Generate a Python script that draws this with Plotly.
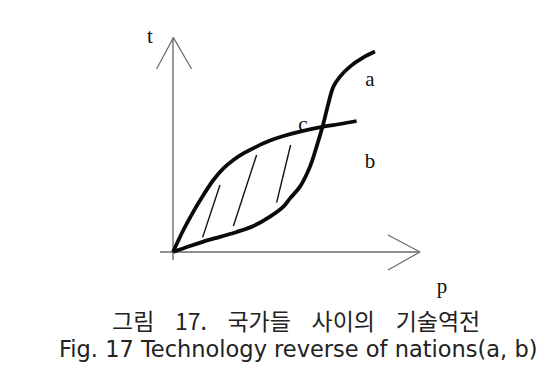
import plotly.graph_objects as go

# Curve a (S-shaped) : p, t
a_p = [0, 0.85, 1.52, 2.35, 3.18, 4.02, 4.85, 5.52, 5.85, 6.35, 6.85, 7.18, 7.52, 7.77, 8.02, 8.35, 8.85, 9.52, 10.1]
a_t = [0, 0.30, 0.52, 0.76, 1.00, 1.30, 1.77, 2.27, 2.68, 3.27, 4.27, 5.27, 6.43, 7.43, 8.27, 8.77, 9.27, 9.73, 10.02]
# Curve b (concave)
b_p = [0, 0.52, 1.02, 1.52, 2.02, 2.52, 3.02, 3.52, 4.18, 4.85, 5.52, 6.35, 7.52, 8.35, 9.18]
b_t = [0, 1.10, 2.02, 2.85, 3.60, 4.18, 4.60, 4.93, 5.27, 5.57, 5.80, 6.02, 6.27, 6.40, 6.55]
# Hatch strokes between the curves (start/end pairs)
hatch_p = [[2.35, 1.48], [4.18, 3.02], [5.88, 5.18]]
hatch_t = [[3.35, 0.73], [4.85, 1.30], [5.35, 2.47]]
# Axes
vaxis_p = [0, 0]
vaxis_t = [-0.4, 10.72]
varrow_p = [-0.82, 0.02, 0.93]
varrow_t = [9.15, 10.72, 9.15]
haxis_p = [-0.65, 12.35]
haxis_t = [0, 0]
harrow_p = [10.75, 12.35, 10.75]
harrow_t = [0.85, 0, -0.9]
# Labels
label_text = ["t", "a", "c", "b", "p"]
label_p = [-1.15, 9.85, 6.5, 9.85, 13.45]
label_t = [10.7, 8.55, 6.3, 4.45, -1.8]

caption_kr = "그림    17.    국가들    사이의    기술역전"
caption_en = "Fig. 17 Technology reverse of nations(a, b)"

fig = go.Figure()
fig.add_trace(go.Scatter(x=label_p, y=label_t, text=label_text, mode="text",
                         textfont=dict(family="Liberation Serif", size=21, color="#111"),
                         hoverinfo="skip"))
fig.add_trace(go.Scatter(x=vaxis_p, y=vaxis_t, mode="lines",
                         line=dict(color="#9a9a9a", width=2), hoverinfo="skip"))
fig.add_trace(go.Scatter(x=varrow_p, y=varrow_t, mode="lines",
                         line=dict(color="#6a6a6a", width=1.2), hoverinfo="skip"))
fig.add_trace(go.Scatter(x=haxis_p, y=haxis_t, mode="lines",
                         line=dict(color="#6a6a6a", width=1.5), hoverinfo="skip"))
fig.add_trace(go.Scatter(x=harrow_p, y=harrow_t, mode="lines",
                         line=dict(color="#6a6a6a", width=1.2), hoverinfo="skip"))
hx, hy = [], []
for px, ty in zip(hatch_p, hatch_t):
    hx += px + [None]
    hy += ty + [None]
fig.add_trace(go.Scatter(x=hx, y=hy, mode="lines",
                         line=dict(color="#111", width=1.4), hoverinfo="skip"))
fig.add_trace(go.Scatter(x=b_p, y=b_t, mode="lines", line_shape="spline",
                         line=dict(color="#0a0a0a", width=3.8), hoverinfo="skip"))
fig.add_trace(go.Scatter(x=a_p, y=a_t, mode="lines", line_shape="spline",
                         line=dict(color="#0a0a0a", width=3.8), hoverinfo="skip"))

fig.add_annotation(text=caption_kr, xref="paper", yref="paper", x=295.5/539, y=1-320/366,
                   showarrow=False, xanchor="center", yanchor="middle",
                   font=dict(family="Noto Sans CJK KR", size=23, color="#222"))
fig.add_annotation(text=caption_en, xref="paper", yref="paper", x=298/539, y=1-349/366,
                   showarrow=False, xanchor="center", yanchor="middle",
                   font=dict(family="DejaVu Sans", size=22.5, color="#222"))

fig.update_layout(
    width=539, height=366, margin=dict(l=0, r=0, t=0, b=0),
    paper_bgcolor="white", plot_bgcolor="white", showlegend=False,
    xaxis=dict(range=[-173/20, (539-173)/20], visible=False, fixedrange=True),
    yaxis=dict(range=[(252-366)/20, 252/20], visible=False, fixedrange=True),
)
fig.write_html("out.html")
